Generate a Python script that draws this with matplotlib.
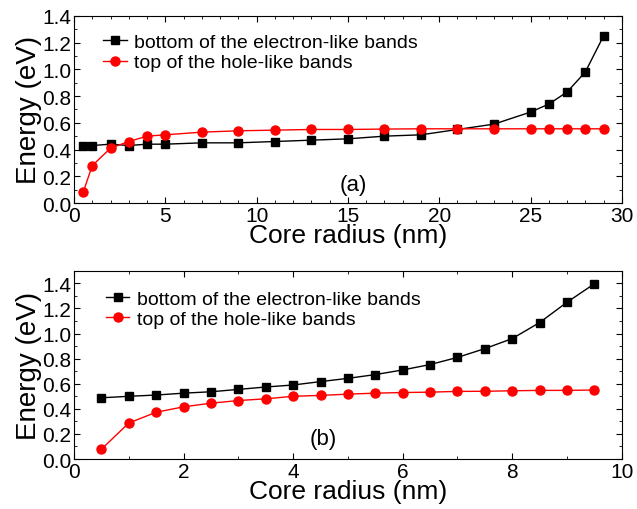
import numpy as np
import matplotlib
matplotlib.use('Agg')
import matplotlib.pyplot as plt
from matplotlib.ticker import MultipleLocator

plt.rcParams['font.family'] = ['Liberation Sans', 'DejaVu Sans']

# panel (a)
r_a = [0.5, 1, 2, 3, 4, 5, 7, 9, 11, 13, 15, 17, 19, 21, 23, 25, 26, 27, 28, 29]
e_bottom_a = [0.43, 0.43, 0.44, 0.43, 0.44, 0.44, 0.45, 0.45, 0.46, 0.47, 0.48, 0.50, 0.51, 0.55,
              0.59, 0.68, 0.74, 0.83, 0.98, 1.25]
h_top_a = [0.08, 0.28, 0.41, 0.46, 0.50, 0.51, 0.53, 0.54, 0.545, 0.55, 0.55, 0.553, 0.555, 0.555,
           0.555, 0.555, 0.555, 0.555, 0.555, 0.555]

# panel (b)
r_b = [0.5, 1, 1.5, 2, 2.5, 3, 3.5, 4, 4.5, 5, 5.5, 6, 6.5, 7, 7.5, 8, 8.5, 9, 9.5]
e_bottom_b = [0.488, 0.50, 0.51, 0.525, 0.536, 0.555, 0.574, 0.59, 0.617, 0.643, 0.673, 0.71,
              0.753, 0.81, 0.88, 0.96, 1.088, 1.25, 1.397]
h_top_b = [0.078, 0.287, 0.373, 0.416, 0.445, 0.466, 0.48, 0.50, 0.507, 0.517, 0.525, 0.53,
           0.533, 0.539, 0.54, 0.544, 0.547, 0.547, 0.55]

lbl_e = "bottom of the electron-like bands"
lbl_h = "top of the hole-like bands"

fig = plt.figure(figsize=(6.37, 5.10), dpi=100)
ax1 = fig.add_axes([0.1162, 0.600, 0.860, 0.367])
ax2 = fig.add_axes([0.1162, 0.098, 0.860, 0.369])

for ax, r, e, h, xmax, ymax, xmaj, tag, tagpos, legpos in [
        (ax1, r_a, e_bottom_a, h_top_a, 30, 1.4, 5, "(a)", (0.51, 0.10), (0.025, 0.99)),
        (ax2, r_b, e_bottom_b, h_top_b, 10, 1.5, 2, "(b)", (0.455, 0.11), (0.03, 0.98))]:
    ax.plot(r, e, color='black', marker='s', markersize=5.5, lw=1, label=lbl_e)
    ax.plot(r, h, color='red', marker='o', markersize=6.5, lw=1, label=lbl_h)
    ax.set_xlim(0, xmax)
    ax.set_ylim(0, ymax)
    ax.xaxis.set_major_locator(MultipleLocator(xmaj))
    ax.xaxis.set_minor_locator(MultipleLocator(1))
    ax.yaxis.set_major_locator(MultipleLocator(0.2))
    ax.yaxis.set_minor_locator(MultipleLocator(0.1))
    ax.yaxis.set_major_formatter(matplotlib.ticker.FormatStrFormatter('%.1f'))
    ax.tick_params(which='both', direction='in', top=True, right=True, labelsize=15, pad=2)
    ax.tick_params(which='major', length=4)
    ax.tick_params(which='minor', length=2)
    ax.set_xlabel("Core radius (nm)", fontsize=19, labelpad=-1)
    ax.set_ylabel("Energy (eV)", fontsize=20, labelpad=0)
    ax.text(tagpos[0], tagpos[1], tag, transform=ax.transAxes, fontsize=16, ha='center', va='center')
    ax.legend(loc='upper left', bbox_to_anchor=legpos, frameon=False, fontsize=14,
              handlelength=1.2, handletextpad=0.4, labelspacing=0.15, borderpad=0.3)

fig.savefig("out.png", dpi=100)
